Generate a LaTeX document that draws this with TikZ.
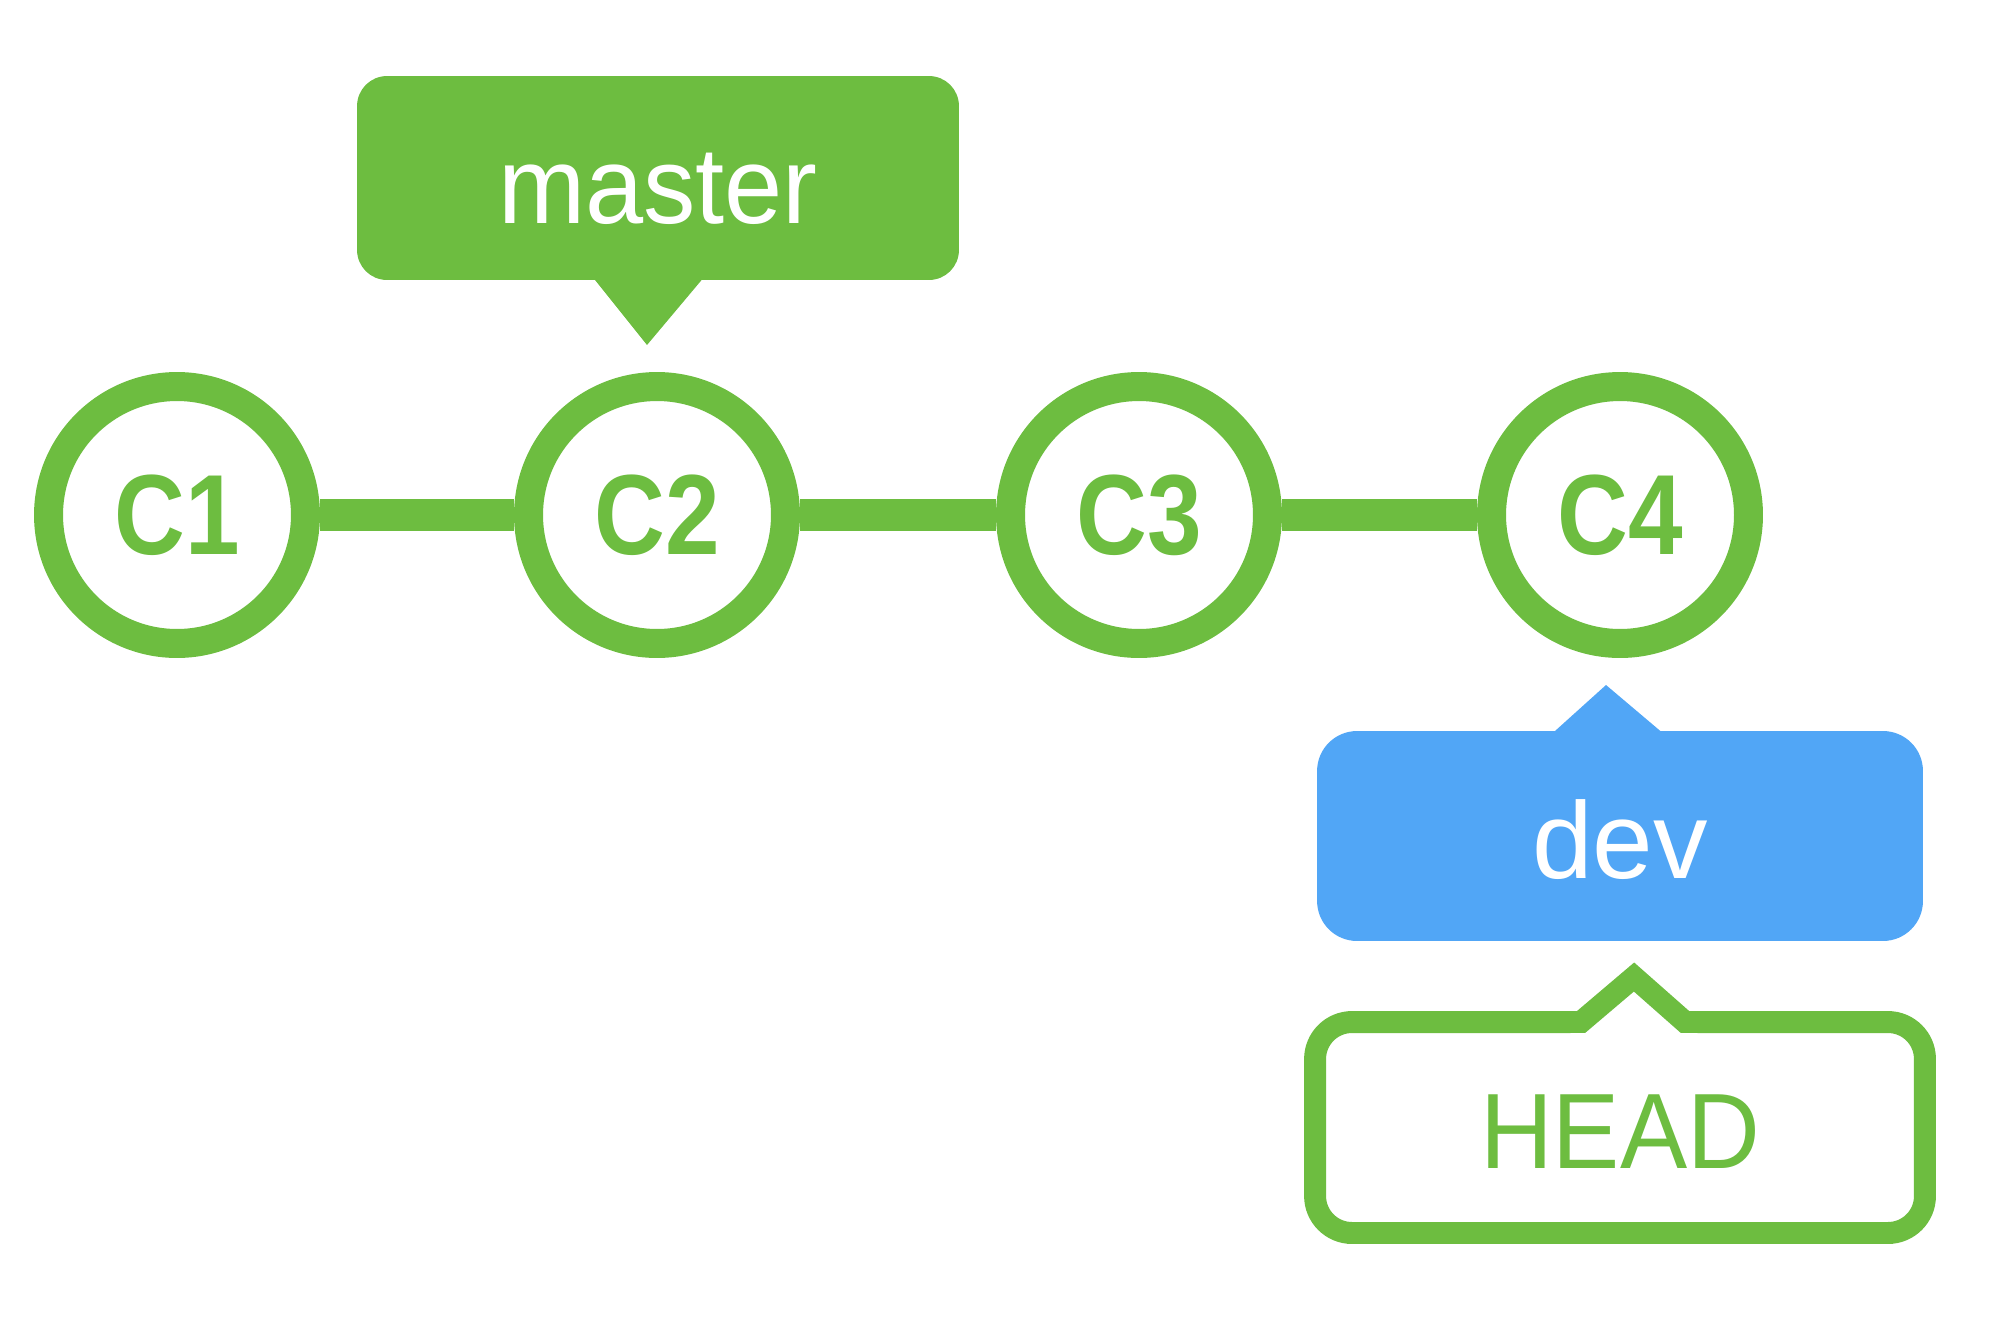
\documentclass[tikz,border=0pt]{standalone}
\usepackage{fontspec}
\usepackage{graphicx}
\setmainfont{Liberation Sans}
\newcommand{\narrowtext}[2]{\scalebox{#1}[1]{#2}}
\definecolor{gitgreen}{HTML}{6DBD40}
\definecolor{gitblue}{HTML}{51A6F6}
\tikzset{
  commit/.style={circle, draw=gitgreen, fill=white, line width=16.5pt,
    minimum size=5.14cm, inner sep=0pt, text=gitgreen,
    font=\bfseries\fontsize{64.9pt}{70pt}\selectfont},
  link/.style={draw=gitgreen, line width=18pt},
  branchtag/.style={rounded corners=#1, inner sep=0pt, text=white, text depth=0pt,
    font=\fontsize{62pt}{70pt}\selectfont},
  headtag/.style={draw=gitgreen, fill=white, line width=12.5pt, rounded corners=0.74cm,
    inner sep=0pt, text=gitgreen, minimum width=12.2cm, minimum height=4.22cm,
    text height=1.62cm, text depth=0pt,
    font=\fontsize{61pt}{70pt}\selectfont}
}
\begin{document}
\begin{tikzpicture}[x=0.02cm, y=-0.02cm]
\useasboundingbox (0,0) rectangle (2000,1322);
% commits
\node[commit] (c1) at (177,515) {\narrowtext{0.86}{C1}};
\node[commit] (c2) at (657,515) {\narrowtext{0.86}{C2}};
\node[commit] (c3) at (1139,515) {\narrowtext{0.86}{C3}};
\node[commit] (c4) at (1620,515) {\narrowtext{0.86}{C4}};
\draw[link] (c1.east) -- (c2.west);
\draw[link] (c2.east) -- (c3.west);
\draw[link] (c3.east) -- (c4.west);
% master tag
\node[branchtag=0.6cm, fill=gitgreen, minimum width=12.04cm, minimum height=4.08cm, text height=1.84cm] (master) at (658,178) {\narrowtext{0.96}{master}};
\coordinate (mtip) at (647,345);
\fill[gitgreen] (587,270) -- (mtip) -- (710,270) -- cycle;
% dev tag
\node[branchtag=0.8cm, fill=gitblue, minimum width=12.12cm, minimum height=4.2cm, text height=1.68cm] (dev) at (1620,836) {dev};
\coordinate (dtip) at (1606,685);
\fill[gitblue] (1545,740) -- (dtip) -- (1671,740) -- cycle;
% HEAD tag
\node[headtag] (head) at (1620,1127.5) {\narrowtext{0.94}{HEAD}};
\coordinate (htip) at (1634,977);
\fill[white] (1570,1034) -- (htip) -- (1698,1034) -- cycle;
\draw[draw=gitgreen, line width=12.5pt] (1560,1022) -- (1581,1022) -- (htip) -- (1685,1022) -- (1706,1022);
\end{tikzpicture}
\end{document}
